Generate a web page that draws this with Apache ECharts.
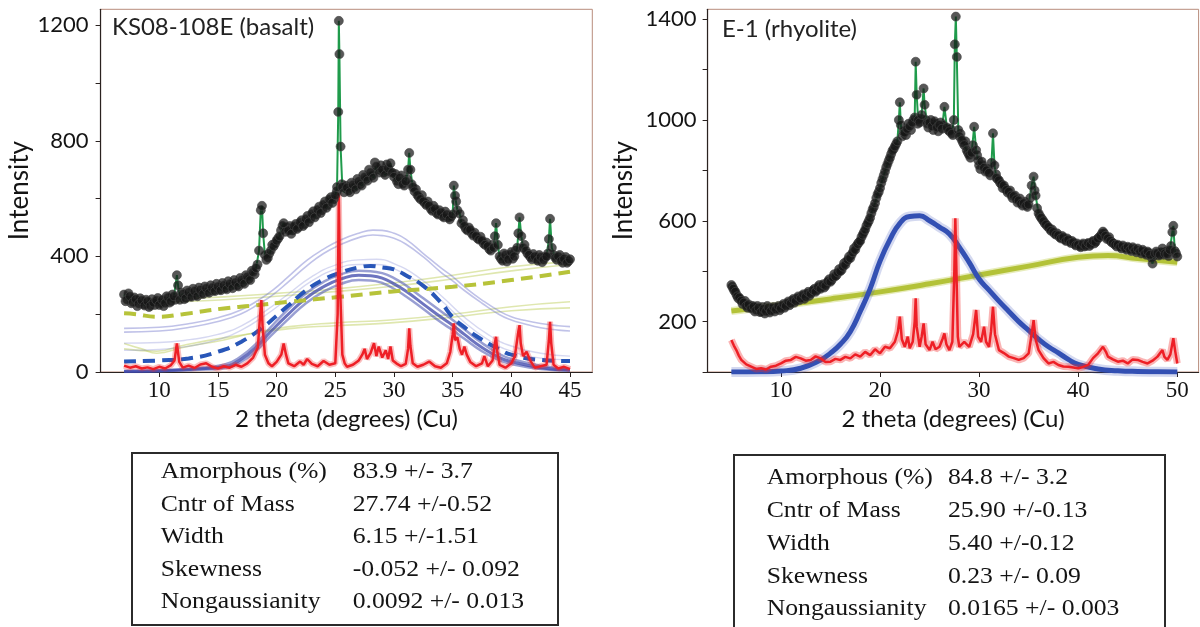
<!DOCTYPE html>
<html><head><meta charset="utf-8">
<script src="https://cdn.jsdelivr.net/npm/echarts@6/dist/echarts.min.js"></script>
<style>html,body{margin:0;padding:0;background:#fff}#c{width:1200px;height:627px}</style>
</head><body><div id="c"></div>
<script>
// ---------------- LEFT PANEL: KS08-108E (basalt) ----------------
const leftTitle = 'KS08-108E (basalt)';
const leftXTicks = [10, 15, 20, 25, 30, 35, 40, 45];
const leftYTicks = [0, 200, 400, 600, 800, 1000, 1200];
const leftYLabels = [0, 400, 800, 1200];
const leftObs = [[7.0,268],[7.25,250],[7.5,262],[7.75,241],[8.0,252],[8.25,236],[8.5,248],[8.75,230],[9.0,245],[9.25,229],[9.5,240],[9.75,248],[10.0,232],[10.25,250],[10.5,238],[10.75,258],[11.0,244],[11.25,262],[11.5,335],[11.6,300],[11.75,250],[12.0,270],[12.25,255],[12.5,276],[12.75,260],[13.0,280],[13.25,262],[13.5,284],[13.75,270],[14.0,290],[14.25,274],[14.5,292],[14.75,280],[15.0,296],[15.25,283],[15.5,300],[15.75,286],[16.0,305],[16.25,290],[16.5,310],[16.75,296],[17.0,318],[17.25,305],[17.5,330],[17.75,318],[18.0,345],[18.25,360],[18.5,420],[18.65,560],[18.75,575],[18.85,480],[19.0,405],[19.25,395],[19.5,420],[19.75,435],[20.0,455],[20.25,470],[20.5,505],[20.6,515],[20.75,485],[21.0,490],[21.25,478],[21.5,505],[21.75,495],[22.0,518],[22.25,505],[22.5,530],[22.75,518],[23.0,548],[23.25,535],[23.5,562],[23.75,550],[24.0,580],[24.25,568],[24.5,598],[24.75,585],[25.0,612],[25.15,640],[25.25,900],[25.3,1215],[25.35,1100],[25.45,780],[25.6,640],[25.75,622],[26.0,638],[26.25,622],[26.5,648],[26.75,632],[27.0,660],[27.25,645],[27.5,675],[27.75,662],[28.0,690],[28.25,672],[28.5,712],[28.75,690],[29.0,700],[29.25,682],[29.5,705],[29.7,722],[29.85,690],[30.0,675],[30.25,660],[30.5,672],[30.75,650],[31.0,660],[31.2,700],[31.3,758],[31.4,700],[31.6,640],[31.75,625],[32.0,612],[32.25,598],[32.5,590],[32.75,578],[33.0,575],[33.25,558],[33.5,565],[33.75,545],[34.0,552],[34.25,535],[34.5,545],[34.75,528],[35.0,545],[35.1,645],[35.2,610],[35.4,560],[35.6,548],[35.75,515],[36.0,505],[36.25,490],[36.5,492],[36.75,472],[37.0,470],[37.25,458],[37.5,455],[37.75,440],[38.0,435],[38.25,420],[38.5,430],[38.7,515],[38.85,440],[39.0,400],[39.25,385],[39.5,405],[39.75,390],[40.0,415],[40.25,400],[40.5,430],[40.7,535],[40.85,470],[41.0,430],[41.25,420],[41.5,405],[41.75,390],[42.0,400],[42.25,385],[42.5,398],[42.75,388],[43.0,400],[43.2,460],[43.3,530],[43.45,430],[43.75,395],[44.0,400],[44.25,385],[44.5,392],[44.75,378],[45.0,390]];
const leftObsExtra = [[7.125,245],[7.375,272],[7.625,238],[7.875,258],[8.125,228],[8.375,255],[8.625,235],[8.875,250],[9.125,225],[9.375,252],[9.625,232],[9.875,256],[10.125,240],[10.375,228],[10.625,262],[10.875,240],[11.125,268],[11.375,250],[11.875,275],[12.125,252],[12.375,282],[12.625,262],[12.875,288],[13.125,266],[13.375,292],[13.625,272],[13.875,296],[14.125,278],[14.375,300],[14.625,282],[14.875,305],[15.125,285],[15.375,308],[15.625,290],[15.875,314],[16.125,298],[16.375,318],[16.625,300],[16.875,325],[17.125,310],[17.375,335],[17.625,322],[17.875,350],[18.125,338],[18.375,372],[19.125,388],[19.375,410],[19.625,440],[19.875,445],[20.125,462],[20.375,490],[20.875,500],[21.125,505],[21.375,490],[21.625,512],[21.875,502],[22.125,525],[22.375,512],[22.625,540],[22.875,530],[23.125,556],[23.375,545],[23.625,572],[23.875,560],[24.125,590],[24.375,578],[24.625,605],[24.875,598],[25.125,625],[25.55,650],[25.875,645],[26.125,628],[26.375,655],[26.625,640],[26.875,668],[27.125,650],[27.375,682],[27.625,668],[27.875,700],[28.125,680],[28.375,725],[28.625,700],[28.875,715],[29.125,690],[29.375,718],[29.625,695],[30.125,685],[30.375,650],[30.625,680],[30.875,645],[31.125,668],[31.5,650],[31.875,632],[32.125,605],[32.375,612],[32.625,585],[32.875,590],[33.125,565],[33.375,575],[33.625,550],[33.875,560],[34.125,540],[34.375,555],[34.625,535],[34.875,538],[35.3,590],[35.875,525],[36.125,495],[36.375,500],[36.625,480],[36.875,482],[37.125,462],[37.375,468],[37.625,445],[37.875,448],[38.125,425],[38.375,440],[38.6,470],[39.125,392],[39.375,410],[39.625,382],[39.875,405],[40.125,392],[40.375,420],[40.6,480],[41.125,440],[41.375,410],[41.625,398],[41.875,408],[42.125,392],[42.375,405],[42.625,380],[42.875,398],[43.125,410],[43.6,405],[43.875,388],[44.125,405],[44.375,378],[44.625,398],[44.875,384]];
const leftCrystal = [[7.0,22],[7.5,15],[8.0,20],[8.5,12],[9.0,16],[9.5,10],[10.0,18],[10.5,12],[11.0,24],[11.3,40],[11.5,99],[11.7,35],[12.0,15],[12.5,22],[13.0,14],[13.5,26],[14.0,30],[14.5,18],[15.0,12],[15.5,20],[16.0,15],[16.5,25],[17.0,18],[17.5,30],[18.0,50],[18.4,85],[18.6,200],[18.7,249],[18.8,160],[19.0,60],[19.3,30],[19.6,20],[20.0,35],[20.4,60],[20.6,99],[20.8,60],[21.0,30],[21.5,20],[22.0,36],[22.3,25],[22.6,45],[23.0,28],[23.5,20],[24.0,38],[24.5,25],[25.0,30],[25.2,200],[25.3,618],[25.4,300],[25.6,60],[25.8,30],[26.0,18],[26.5,25],[27.0,40],[27.3,60],[27.5,80],[27.7,45],[28.0,65],[28.3,100],[28.5,55],[28.7,88],[29.0,50],[29.3,75],[29.5,45],[29.7,88],[29.9,40],[30.2,30],[30.6,20],[31.0,28],[31.2,80],[31.3,151],[31.4,90],[31.6,30],[32.0,18],[32.5,25],[33.0,36],[33.5,20],[34.0,15],[34.5,30],[34.8,70],[35.0,130],[35.1,168],[35.2,110],[35.4,120],[35.6,80],[35.8,60],[36.0,88],[36.2,60],[36.5,35],[37.0,20],[37.5,30],[37.7,55],[38.0,20],[38.4,40],[38.6,100],[38.7,122],[38.8,70],[39.0,25],[39.5,15],[40.0,30],[40.3,55],[40.6,140],[40.7,162],[40.8,100],[41.0,55],[41.3,70],[41.6,40],[42.0,15],[42.5,20],[43.0,25],[43.2,110],[43.3,174],[43.4,100],[43.6,25],[44.0,12],[44.5,18],[45.0,10]];
const leftAmorphMean = [[7,36],[10,40],[12.5,47],[15,70],[17,105],[19,160],[20,195],[21,230],[22.5,282],[24,320],[25.5,345],[27,362],[28,367],[29,362],[30,355],[31,335],[32.5,298],[34,240],[35,190],[36,155],[37.5,112],[39,78],[40,60],[42.5,42],[45,38]];
const leftAmorphHi = [[7,4],[10,6],[13,13],[15.5,25],[17,55],[18.3,100],[19.5,155],[21,218],[22.5,272],[24,312],[25.5,338],[27,350],[28,349],[29,342],[30,325],[31,300],[32.5,255],[34,210],[35,180],[36,148],[37.5,100],[39,62],[40,45],[42.5,22],[45,10]];
const leftAmorphMid = [[7,2],[10,4],[13,10],[15.5,18],[17,45],[18.3,88],[19.5,140],[21,200],[22.5,255],[24,295],[25.5,322],[27,335],[28,333],[29,325],[30,305],[31,280],[32.5,235],[34,190],[35,162],[36,130],[37.5,85],[39,50],[40,36],[42.5,15],[45,7]];
const leftAmorphLo = [[7,0],[10,2],[13,7],[15.5,13],[17,36],[18.3,75],[19.5,125],[21,183],[22.5,238],[24,278],[25.5,305],[27,318],[28,317],[29,308],[30,288],[31,262],[32.5,218],[34,172],[35,145],[36,115],[37.5,72],[39,40],[40,28],[42.5,10],[45,4]];
const leftSampleUp1 = [[7,151],[10,155],[12.6,168],[15,188],[16.9,214],[18.5,250],[19.7,284],[21,330],[22.6,387],[24,425],[25.4,456],[27,480],[28.2,491],[29,490],[30,480],[31,460],[32.5,410],[34,360],[35,330],[36,295],[37.5,249],[39,210],[40,191],[41,180],[42.5,168],[44,160],[45,157]];
const leftSampleUp2 = [[7,138],[10,142],[12.6,155],[15,175],[16.9,200],[18.5,236],[19.7,268],[21,312],[22.6,368],[24,410],[25.4,440],[27,465],[28.2,474],[29,472],[30,463],[31,443],[32.5,398],[34,345],[35,315],[36,282],[37.5,238],[39,198],[40,180],[41,168],[42.5,153],[44,145],[45,142]];
const leftSampleMid1 = [[7,100],[10,102],[12.6,112],[15,130],[17,160],[19,210],[21,270],[23,330],[25,370],[27,388],[28.5,390],[30,375],[32,330],[34,265],[36,190],[38,130],[40,90],[42.5,65],[45,55]];
const leftSampleMid2 = [[7,75],[10,78],[12.6,90],[15,112],[17,145],[19,195],[21,255],[23,315],[25,355],[27,372],[28.5,372],[30,358],[32,312],[34,248],[36,172],[38,112],[40,72],[42.5,48],[45,42]];
const leftBgMean = [[7,203],[8,200],[9.8,191],[12,200],[15.5,220],[18,230],[21.1,243],[25.4,260],[29.7,278],[35,295],[40,318],[45,347]];
const leftBgUp1 = [[7,249],[10,252],[15.5,260],[20,272],[24,284],[29.7,307],[35,335],[40,364],[45,382]];
const leftBgUp2 = [[7,238],[10,240],[15.5,250],[20,262],[24,275],[29.7,296],[35,322],[40,350],[45,372]];
const leftBgLo1 = [[7,99],[8.5,80],[9.8,65],[12,85],[15.5,111],[18,135],[21.1,157],[25,170],[29.7,180],[35,200],[40,226],[45,243]];
const leftBgLo2 = [[7,80],[9.8,72],[12,92],[15.5,118],[21.1,150],[25,160],[29.7,170],[35,190],[40,212],[45,222]];

// ---------------- RIGHT PANEL: E-1 (rhyolite) ----------------
const rightTitle = 'E-1 (rhyolite)';
const rightXTicks = [10, 20, 30, 40, 50];
const rightYTicks = [0, 200, 400, 600, 800, 1000, 1200, 1400];
const rightYLabels = [200, 600, 1000, 1400];
const rightObs = [[5.0,345],[5.2,330],[5.4,318],[5.6,300],[5.8,295],[6.0,282],[6.25,275],[6.5,262],[6.75,268],[7.0,252],[7.25,260],[7.5,245],[7.75,255],[8.0,238],[8.25,250],[8.5,240],[8.75,255],[9.0,242],[9.25,258],[9.5,248],[9.75,262],[10.0,252],[10.25,270],[10.5,262],[10.75,280],[11.0,272],[11.25,290],[11.5,282],[11.75,300],[12.0,292],[12.25,308],[12.5,298],[12.75,318],[13.0,310],[13.25,325],[13.5,318],[13.75,338],[14.0,330],[14.25,348],[14.5,342],[14.75,360],[15.0,358],[15.25,375],[15.5,380],[15.75,395],[16.0,400],[16.25,418],[16.5,425],[16.75,445],[17.0,452],[17.25,475],[17.5,485],[17.75,508],[18.0,520],[18.25,545],[18.5,565],[18.75,590],[19.0,612],[19.25,645],[19.5,670],[19.75,705],[20.0,730],[20.25,765],[20.5,795],[20.75,825],[21.0,850],[21.25,878],[21.5,895],[21.75,915],[21.9,1000],[22.0,1070],[22.1,980],[22.25,935],[22.5,950],[22.75,965],[23.0,975],[23.25,990],[23.5,1010],[23.6,1231],[23.7,1100],[23.85,1000],[24.0,990],[24.2,1020],[24.4,1125],[24.5,1060],[24.75,985],[25.0,990],[25.25,975],[25.5,995],[25.75,970],[26.0,980],[26.25,965],[26.5,1052],[26.75,970],[27.0,955],[27.25,945],[27.45,1000],[27.55,1300],[27.65,1410],[27.75,1250],[27.9,960],[28.0,935],[28.25,920],[28.5,900],[28.75,880],[29.0,860],[29.25,870],[29.5,973],[29.7,880],[29.9,840],[30.0,820],[30.25,835],[30.5,810],[30.75,800],[31.0,790],[31.25,830],[31.4,947],[31.55,820],[31.75,770],[32.0,760],[32.25,745],[32.5,740],[32.75,722],[33.0,715],[33.25,700],[33.5,698],[33.75,685],[34.0,680],[34.25,668],[34.5,670],[34.75,660],[35.0,665],[35.3,740],[35.5,775],[35.7,700],[36.0,630],[36.25,612],[36.5,598],[36.75,585],[37.0,575],[37.25,560],[37.5,555],[37.75,545],[38.0,542],[38.25,530],[38.5,535],[38.75,520],[39.0,525],[39.25,512],[39.5,515],[39.75,502],[40.0,505],[40.25,495],[40.5,510],[40.75,500],[41.0,512],[41.25,505],[41.5,520],[41.75,515],[42.0,530],[42.25,540],[42.5,557],[42.75,540],[43.0,530],[43.25,520],[43.5,512],[43.75,505],[44.0,505],[44.25,495],[44.5,502],[44.75,490],[45.0,497],[45.25,485],[45.5,495],[45.75,482],[46.0,490],[46.25,478],[46.5,485],[46.75,470],[47.0,478],[47.25,465],[47.5,430],[47.75,470],[48.0,472],[48.25,465],[48.5,490],[48.75,470],[49.0,468],[49.25,485],[49.5,555],[49.6,580],[49.75,480],[50.0,458]];
const rightObsExtra = [[5.1,338],[5.3,322],[5.5,308],[5.7,292],[5.9,288],[6.125,270],[6.375,282],[6.625,255],[6.875,258],[7.125,262],[7.375,240],[7.625,262],[7.875,238],[8.125,258],[8.375,232],[8.625,262],[8.875,236],[9.125,252],[9.375,240],[9.625,255],[9.875,245],[10.125,262],[10.375,255],[10.625,272],[10.875,265],[11.125,283],[11.375,275],[11.625,292],[11.875,285],[12.125,302],[12.375,290],[12.625,310],[12.875,302],[13.125,318],[13.375,330],[13.625,325],[13.875,345],[14.125,338],[14.375,335],[14.625,352],[14.875,368],[15.125,365],[15.375,388],[15.625,385],[15.875,408],[16.125,405],[16.375,432],[16.625,438],[16.875,458],[17.125,465],[17.375,490],[17.625,500],[17.875,515],[18.125,535],[18.375,555],[18.625,580],[18.875,600],[19.125,630],[19.375,655],[19.625,690],[19.875,715],[20.125,750],[20.375,780],[20.625,812],[20.875,838],[21.125,865],[21.375,885],[21.625,905],[22.375,955],[22.625,940],[22.875,985],[23.125,960],[23.375,1000],[23.8,985],[24.125,1005],[24.625,1000],[24.875,970],[25.125,1000],[25.375,960],[25.625,985],[25.875,955],[26.125,990],[26.375,980],[26.875,960],[27.125,965],[27.35,940],[28.125,945],[28.375,910],[28.625,915],[28.875,870],[29.125,850],[29.375,900],[29.8,860],[30.125,805],[30.375,820],[30.625,795],[30.875,805],[31.125,780],[31.7,785],[31.875,765],[32.125,750],[32.375,730],[32.625,728],[32.875,712],[33.125,720],[33.375,690],[33.625,700],[33.875,672],[34.125,688],[34.375,660],[34.625,675],[34.875,655],[35.15,690],[35.6,720],[35.85,650],[36.125,620],[36.375,605],[36.625,590],[36.875,578],[37.125,568],[37.375,565],[37.625,548],[37.875,550],[38.125,535],[38.375,540],[38.625,525],[38.875,530],[39.125,518],[39.375,520],[39.625,508],[39.875,510],[40.125,500],[40.375,505],[40.625,498],[40.875,508],[41.125,500],[41.375,515],[41.625,510],[41.875,525],[42.125,535],[42.375,548],[42.625,550],[42.875,528],[43.125,535],[43.375,515],[43.625,508],[43.875,498],[44.125,500],[44.375,490],[44.625,495],[44.875,485],[45.125,492],[45.375,480],[45.625,488],[45.875,475],[46.125,482],[46.375,470],[46.625,478],[46.875,465],[47.125,472],[47.375,455],[47.625,460],[47.875,478],[48.125,462],[48.375,475],[48.625,465],[48.875,478],[49.125,460],[49.375,500],[49.875,470]];
const rightCrystal = [[5.0,127],[5.25,105],[5.5,87],[5.75,65],[6.0,48],[6.5,30],[7.0,21],[7.5,12],[8.0,15],[8.5,10],[9.0,21],[9.5,25],[10.0,34],[10.5,45],[11.0,48],[11.5,60],[12.0,54],[12.5,45],[13.0,48],[13.5,62],[14.0,54],[14.5,40],[15.0,41],[15.5,52],[16.0,48],[16.5,60],[17.0,54],[17.5,70],[18.0,61],[18.5,80],[19.0,67],[19.5,90],[20.0,74],[20.5,100],[21.0,94],[21.5,120],[21.8,160],[22.0,220],[22.2,130],[22.5,100],[22.8,140],[23.0,94],[23.3,120],[23.5,200],[23.6,292],[23.7,180],[24.0,100],[24.2,140],[24.4,193],[24.6,110],[25.0,87],[25.3,120],[25.6,90],[26.0,100],[26.3,130],[26.5,153],[26.7,110],[27.0,87],[27.3,120],[27.5,400],[27.6,610],[27.7,420],[27.85,140],[28.0,100],[28.5,120],[29.0,100],[29.4,150],[29.7,246],[29.9,140],[30.2,120],[30.5,180],[30.7,120],[31.0,100],[31.2,160],[31.4,259],[31.6,150],[32.0,87],[32.5,75],[33.0,61],[33.5,55],[34.0,48],[34.5,55],[35.0,74],[35.3,150],[35.5,206],[35.7,130],[36.0,87],[36.5,55],[37.0,34],[37.5,40],[38.0,28],[38.5,22],[39.0,21],[39.5,18],[40.0,15],[40.5,20],[41.0,28],[41.5,55],[42.0,74],[42.5,100],[42.8,80],[43.0,61],[43.5,50],[44.0,41],[44.5,45],[45.0,34],[45.5,50],[46.0,48],[46.5,40],[47.0,34],[47.5,45],[48.0,61],[48.5,87],[48.7,60],[49.0,48],[49.3,70],[49.6,134],[49.8,80],[50.0,34]];
const rightAmorph = [[5,0],[8,1],[10,4],[12,15],[14,48],[15,75],[16,110],[17,160],[18,240],[19,330],[20,440],[21,525],[22,590],[23,617],[24,620],[25,600],[26,575],[27,548],[28,495],[29,435],[30,369],[31,325],[32,281],[33,240],[34,200],[35,165],[36,130],[37,100],[38,76],[39,50],[40,30],[42,12],[44,5],[46,2],[48,1],[50,0]];
const rightBackground = [[5,242],[10,265],[15,290],[20,318],[25,350],[30,385],[35,420],[40,455],[43,462],[46,450],[50,435]];

// ---------------- TABLES ----------------
const tableLabels = ['Amorphous (%)', 'Cntr of Mass', 'Width', 'Skewness', 'Nongaussianity'];
const leftTableValues = ['83.9 +/- 3.7', '27.74 +/-0.52', '6.15 +/-1.51', '-0.052 +/- 0.092', '0.0092 +/- 0.013'];
const rightTableValues = ['84.8 +/- 3.2', '25.90 +/-0.13', '5.40 +/-0.12', '0.23 +/- 0.09', '0.0165 +/- 0.003'];

// ---------------- STYLE ----------------
const SANS = 'Lato';
const SERIF = 'Liberation Serif';
const TXT = '#141414';

function lineSeries(idx, data, color, width, opts) {
  return Object.assign({
    type: 'line', xAxisIndex: idx, yAxisIndex: idx, data: data, z: 2,
    showSymbol: false, symbol: 'none', smooth: false, clip: true,
    lineStyle: { color: color, width: width }, silent: true
  }, opts || {});
}
function smoothLine(idx, data, color, width, dash) {
  return lineSeries(idx, data, color, width, {
    smooth: true,
    lineStyle: { color: color, width: width, type: dash || 'solid' }
  });
}
function scatterSeries(idx, data) {
  return {
    type: 'scatter', xAxisIndex: idx, yAxisIndex: idx, data: data, z: 6,
    symbolSize: 9, silent: true,
    itemStyle: { color: 'rgba(22,22,22,0.9)', borderColor: 'rgba(70,70,70,0.8)', borderWidth: 1 }
  };
}

function xAxis(idx, min, max, ticks) {
  return {
    gridIndex: idx, type: 'value', min: min, max: max,
    axisLine: { show: true, onZero: false, lineStyle: { color: '#2a2220', width: 1.2 } },
    axisTick: { show: true, inside: false, length: 5, customValues: ticks, lineStyle: { color: '#2a2220' } },
    axisLabel: { customValues: ticks, fontFamily: SERIF, fontSize: 23, color: TXT, margin: 7,
      formatter: function (v) { return String(v); } },
    splitLine: { show: false },
    name: '2 theta (degrees) (Cu)', nameLocation: 'middle', nameGap: 35,
    nameTextStyle: { fontFamily: SANS, fontSize: 24, color: TXT }
  };
}
function yAxis(idx, max, ticks, labels, nameGap, labelMargin) {
  return {
    gridIndex: idx, type: 'value', min: 0, max: max,
    axisLine: { show: true, onZero: false, lineStyle: { color: '#2a2220', width: 1.2 } },
    axisTick: { show: true, inside: false, length: 5, customValues: ticks, lineStyle: { color: '#2a2220' } },
    axisLabel: { customValues: labels, fontFamily: SANS, fontSize: 22, color: TXT, margin: labelMargin,
      formatter: function (v) { return String(v); } },
    splitLine: { show: false },
    name: 'Intensity', nameLocation: 'middle', nameGap: nameGap,
    nameTextStyle: { fontFamily: SANS, fontSize: 26, color: TXT }
  };
}

function tableGraphic(box, labelX, valueX, firstY, step, labels, values) {
  const els = [{
    type: 'rect', shape: { x: box.x, y: box.y, width: box.w, height: box.h },
    style: { fill: '#fff', stroke: '#2b2b2b', lineWidth: 2 }, silent: true
  }];
  labels.forEach(function (t, i) {
    els.push({ type: 'text', x: labelX, y: firstY + i * step, scaleX: 1.07, silent: true,
      style: { text: t, x: 0, y: 0, fontFamily: SERIF, fontSize: 24, fill: TXT, verticalAlign: 'middle', align: 'left' } });
    els.push({ type: 'text', x: valueX, y: firstY + i * step, scaleX: 1.07, silent: true,
      style: { text: values[i], x: 0, y: 0, fontFamily: SERIF, fontSize: 24, fill: TXT, verticalAlign: 'middle', align: 'left' } });
  });
  return els;
}

const faintBlue = 'rgba(105,110,200,0.42)';
const faintYellow = 'rgba(196,212,110,0.55)';

const option = {
  animation: false,
  backgroundColor: '#fff',
  title: [
    { text: leftTitle, left: 112, top: 15, padding: 0,
      textStyle: { fontFamily: SANS, fontSize: 24, fontWeight: 'normal', color: '#222' } },
    { text: rightTitle, left: 722, top: 17, padding: 0,
      textStyle: { fontFamily: SANS, fontSize: 24, fontWeight: 'normal', color: '#222' } }
  ],
  grid: [
    { left: 100.6, top: 9.3, width: 491.7, height: 362.7, show: true, borderColor: '#b88d7c', borderWidth: 1, backgroundColor: 'transparent' },
    { left: 707.6, top: 9.3, width: 491.0, height: 362.7, show: true, borderColor: '#b88d7c', borderWidth: 1, backgroundColor: 'transparent' }
  ],
  xAxis: [ xAxis(0, 5, 46.9, leftXTicks), xAxis(1, 2.6, 52.15, rightXTicks) ],
  yAxis: [ yAxis(0, 1255, leftYTicks, leftYLabels, 68, 12), yAxis(1, 1439, rightYTicks, rightYLabels, 71, 11) ],
  series: [
    // left panel
    smoothLine(0, leftBgUp1, faintYellow, 1.6),
    smoothLine(0, leftBgUp2, faintYellow, 1.6),
    smoothLine(0, leftBgLo1, faintYellow, 1.6),
    smoothLine(0, leftBgLo2, faintYellow, 1.6),
    smoothLine(0, leftSampleUp1, faintBlue, 1.6),
    smoothLine(0, leftSampleUp2, faintBlue, 1.6),
    smoothLine(0, leftSampleMid1, 'rgba(120,125,210,0.3)', 1.4),
    smoothLine(0, leftSampleMid2, 'rgba(120,125,210,0.3)', 1.4),
    smoothLine(0, leftAmorphHi, 'rgba(70,80,175,0.55)', 2.5),
    smoothLine(0, leftAmorphLo, 'rgba(70,80,175,0.55)', 2.5),
    smoothLine(0, leftAmorphMid, 'rgba(60,70,170,0.75)', 3),
    smoothLine(0, leftBgMean, '#b7c33a', 4, [12, 7]),
    smoothLine(0, leftAmorphMean, '#2856b8', 4, [12, 7]),
    lineSeries(0, leftCrystal, 'rgba(240,40,40,0.3)', 6),
    lineSeries(0, leftCrystal, '#ee1f26', 2.5),
    lineSeries(0, leftObs, '#1f9b4b', 2),
    scatterSeries(0, leftObsExtra),
    scatterSeries(0, leftObs),
    // right panel
    smoothLine(1, rightBackground, 'rgba(185,200,60,0.35)', 8),
    smoothLine(1, rightBackground, '#b3c238', 5),
    smoothLine(1, rightAmorph, 'rgba(60,80,185,0.22)', 10),
    smoothLine(1, rightAmorph, '#3350b3', 5),
    lineSeries(1, rightCrystal, 'rgba(240,40,40,0.35)', 7),
    lineSeries(1, rightCrystal, '#ee1f26', 2.5),
    lineSeries(1, rightObs, '#1f9b4b', 2),
    scatterSeries(1, rightObsExtra),
    scatterSeries(1, rightObs)
  ],
  graphic: [].concat(
    tableGraphic({ x: 132, y: 453, w: 426, h: 172 }, 160.7, 352.7, 472, 32.5, tableLabels, leftTableValues),
    tableGraphic({ x: 734, y: 455, w: 431, h: 180 }, 766.7, 948, 478, 32.8, tableLabels, rightTableValues)
  )
};

const chart = echarts.init(document.getElementById('c'), null, { renderer: 'canvas' });
chart.setOption(option);
</script>
</body></html>
